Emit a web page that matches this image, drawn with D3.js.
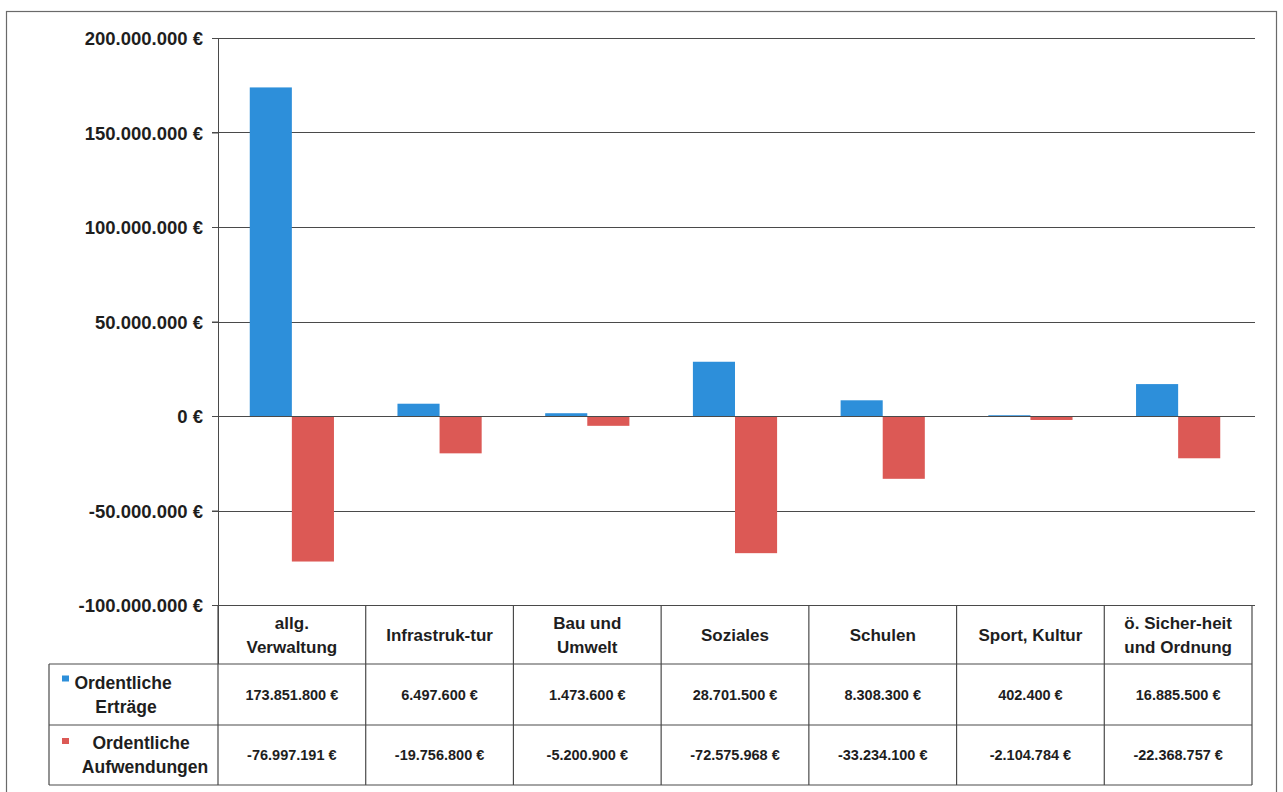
<!DOCTYPE html>
<html>
<head>
<meta charset="utf-8">
<script src="https://cdn.jsdelivr.net/npm/d3@7"></script>
<style>
  body { margin: 0; background: #fff; }
  svg text { font-family: "Liberation Sans", Arial, sans-serif; font-weight: bold; fill: #1e1e1e; }
</style>
</head>
<body>
<div id="chart"></div>
<script>
// Kategorien (Zeilenumbruch wie in der Datentabelle)
var categories = ["allg.\nVerwaltung", "Infrastruk-tur", "Bau und\nUmwelt", "Soziales", "Schulen", "Sport, Kultur", "ö. Sicher-heit\nund Ordnung"];
// Ordentliche Erträge
var ertraege = [173851800, 6497600, 1473600, 28701500, 8308300, 402400, 16885500];
// Ordentliche Aufwendungen
var aufwendungen = [-76997191, -19756800, -5200900, -72575968, -33234100, -2104784, -22368757];
var seriesNames = [["Ordentliche", "Erträge"], ["Ordentliche", "Aufwendungen"]];
var yTicks = [-100000000, -50000000, 0, 50000000, 100000000, 150000000, 200000000];

var W = 1283, H = 792;
var pLeft = 218, pRight = 1252, pTop = 38, pBottom = 605;
var rowH = [605, 664, 725, 785];
var colors = ["#2d8fda", "#dc5955"];

var de = d3.formatLocale({decimal: ",", thousands: ".", grouping: [3], currency: ["", " €"], minus: "-"});
var fmt = function(v){ return de.format(",.0f")(v) + " €"; };

var svg = d3.select("#chart").append("svg").attr("width", W).attr("height", H);

// Rahmen
svg.append("rect").attr("x", 6.5).attr("y", 11.5).attr("width", 1270).attr("height", 800)
  .attr("fill", "none").attr("stroke", "#6a6a6a").attr("stroke-width", 1.2);

var y = d3.scaleLinear().domain([-100000000, 200000000]).range([pBottom, pTop]);
var x0 = d3.scaleBand().domain(d3.range(categories.length)).range([pLeft, pRight]).paddingInner(0.43).paddingOuter(0.215);
var x1 = d3.scaleBand().domain([0, 1]).range([0, x0.bandwidth()]);
var step = x0.step();

// Gitternetz
svg.append("g").selectAll("line").data(yTicks).enter().append("line")
  .attr("x1", pLeft - 6).attr("x2", pRight + 3)
  .attr("y1", function(d){ return Math.round(y(d)) + 0.5; })
  .attr("y2", function(d){ return Math.round(y(d)) + 0.5; })
  .attr("stroke", "#4a4a4a").attr("stroke-width", 1);

// Y-Achse
var yAxis = svg.append("g").attr("transform", "translate(" + pLeft + ",0)")
  .call(d3.axisLeft(y).tickValues(yTicks).tickSize(6).tickPadding(9).tickFormat(fmt));
yAxis.select(".domain").remove();
yAxis.selectAll("line").attr("stroke", "#4a4a4a");
yAxis.selectAll("text").style("font-size", "18.5px").attr("dy", "0.36em");

svg.append("line").attr("x1", pLeft + 0.5).attr("x2", pLeft + 0.5).attr("y1", pTop).attr("y2", rowH[1])
  .attr("stroke", "#4a4a4a");

// Balken
var bars = [ertraege, aufwendungen];
bars.forEach(function(vals, s){
  svg.append("g").selectAll("rect").data(vals).enter().append("rect")
    .attr("x", function(d, i){ return x0(i) + x1(s); })
    .attr("width", x1.bandwidth())
    .attr("y", function(d){ return y(Math.max(0, d)); })
    .attr("height", function(d){ return Math.abs(y(d) - y(0)); })
    .attr("fill", colors[s]);
});

// Nulllinie über den Balken
svg.append("line").attr("x1", pLeft).attr("x2", pRight + 3)
  .attr("y1", Math.round(y(0)) + 0.5).attr("y2", Math.round(y(0)) + 0.5)
  .attr("stroke", "#4a4a4a");

// Datentabelle
var tbl = svg.append("g").attr("stroke", "#4a4a4a").attr("stroke-width", 1.2);
[1, 2, 3].forEach(function(r){
  tbl.append("line").attr("x1", 49).attr("x2", pRight).attr("y1", rowH[r]).attr("y2", rowH[r]);
});
tbl.append("line").attr("x1", 49).attr("x2", 49).attr("y1", rowH[1]).attr("y2", rowH[3]);
d3.range(categories.length + 1).forEach(function(i){
  var xx = pLeft + i * step;
  tbl.append("line").attr("x1", xx).attr("x2", xx).attr("y1", rowH[0]).attr("y2", rowH[3]);
});

// Kopfzeile
categories.forEach(function(c, i){
  var lines = c.split("\n");
  var cx = pLeft + (i + 0.5) * step;
  var mid = (rowH[0] + rowH[1]) / 2;
  lines.forEach(function(l, k){
    svg.append("text").attr("x", cx)
      .attr("y", mid + (k - (lines.length - 1) / 2) * 24 + 6)
      .attr("text-anchor", "middle").style("font-size", "17px").text(l);
  });
});

// Werte
bars.forEach(function(vals, s){
  var mid = (rowH[s + 1] + rowH[s + 2]) / 2;
  svg.append("g").selectAll("text").data(vals).enter().append("text")
    .attr("x", function(d, i){ return pLeft + (i + 0.5) * step; })
    .attr("y", mid + 5)
    .attr("text-anchor", "middle").style("font-size", "14.5px")
    .text(fmt);
});

// Legende in der Tabelle
var legX = [[123, 126], [141, 145]];
seriesNames.forEach(function(n, s){
  var mid = (rowH[s + 1] + rowH[s + 2]) / 2;
  svg.append("rect").attr("x", 62).attr("y", mid - 19 + (s ? 2 : 0)).attr("width", 7).attr("height", 6).attr("fill", colors[s]);
  n.forEach(function(l, k){
    svg.append("text").attr("x", legX[s][k]).attr("y", mid + (k - 0.5) * 24 + 6)
      .attr("text-anchor", "middle").style("font-size", "17.5px").text(l);
  });
});
</script>
</body>
</html>
